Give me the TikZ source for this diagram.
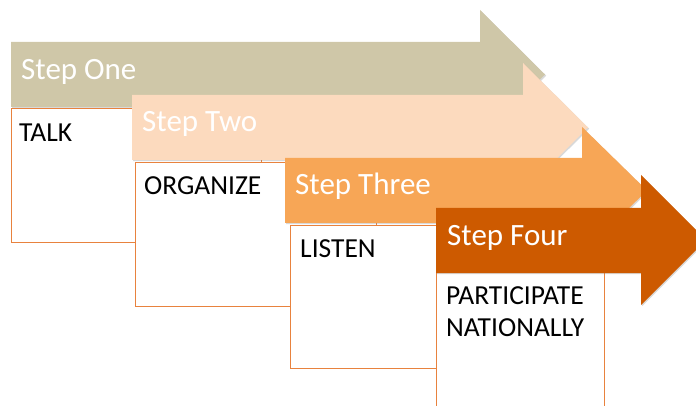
\documentclass[tikz,border=0pt]{standalone}
\usepackage{fontspec}
\setmainfont{Carlito}
\usetikzlibrary{shadows}

\definecolor{stepone}{RGB}{207,199,168}
\definecolor{steptwo}{RGB}{252,218,190}
\definecolor{stepthree}{RGB}{247,166,86}
\definecolor{stepfour}{RGB}{205,90,0}
\definecolor{boxline}{RGB}{232,130,62}

\tikzset{
	steparrow/.style={drop shadow={shadow xshift=1.2pt,shadow yshift=-1.2pt,opacity=.3,fill=gray}},
	stepbox/.style={draw=boxline,fill=white,line width=1pt},
	steplabel/.style={anchor=base west,inner sep=0pt,text=white,font=\fontsize{31}{37}\selectfont},
	boxlabel/.style={anchor=base west,inner sep=0pt,align=left,font=\fontsize{27.5}{32}\selectfont}
}

\begin{document}
\begin{tikzpicture}[x=1pt,y=-1pt]
			\useasboundingbox (0,0) rectangle (696,406);

			% step one
			\fill[stepone,steparrow] (11,42) -- (480,42) -- (480,10) -- (545,74.5) -- (480,139) -- (480,107) -- (11,107) -- cycle;
			\draw[stepbox] (11,109) rectangle (261,242);
			\node[steplabel] (one) at (21,80) {Step One};
			\node[boxlabel] (talk) at (19,142) {TALK};

			% step two
			\fill[steptwo,steparrow] (132,95) -- (523,95) -- (523,63) -- (588,127.5) -- (523,192) -- (523,160) -- (132,160) -- cycle;
			\draw[stepbox] (135,163) rectangle (376,306);
			\node[steplabel] (two) at (142,132) {Step Two};
			\node[boxlabel] (organize) at (144,195) {ORGANIZE};

			% step three
			\fill[stepthree,steparrow] (285,158) -- (582,158) -- (582,127) -- (647,190.5) -- (582,254) -- (582,223) -- (285,223) -- cycle;
			\draw[stepbox] (290,226) rectangle (540,368);
			\node[steplabel] (three) at (295,195) {Step Three};
			\node[boxlabel] (listen) at (300,258) {LISTEN};

			% step four
			\draw[stepbox] (436,272) rectangle (604,420);
			\fill[stepfour,steparrow] (436,208) -- (641,208) -- (641,175) -- (706,240) -- (641,305) -- (641,273) -- (436,273) -- cycle;
			\node[steplabel] (four) at (447,245) {Step Four};
			\node[boxlabel] (participate) at (446,336) {PARTICIPATE\\NATIONALLY};
		\end{tikzpicture}
\end{document}
